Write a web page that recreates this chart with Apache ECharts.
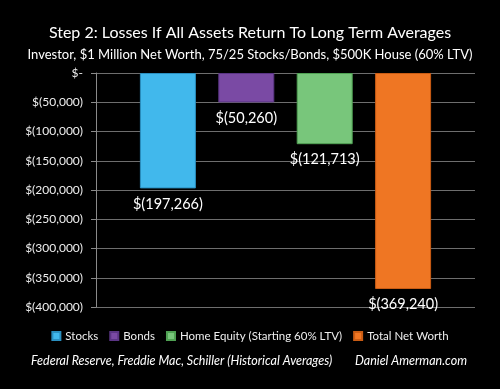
<!DOCTYPE html>
<html><head><meta charset="utf-8">
<script src="https://cdn.jsdelivr.net/npm/echarts@6/dist/echarts.min.js"></script>
<style>html,body{margin:0;padding:0;background:#000;}#c{width:500px;height:389px;}</style>
</head><body><div id="c"></div>
<script>
const seriesNames = ['Stocks', 'Bonds', 'Home Equity (Starting 60% LTV)', 'Total Net Worth'];
const seriesValues = [-197266, -50260, -121713, -369240];
const seriesColors = ['#41b8ec', '#7a4aa4', '#78c67b', '#ef7623'];
const borderColors = ['#2a8fc0', '#5b3585', '#4fa153', '#c95c14'];
const categories = [''];
const titleText = 'Step 2: Losses If All Assets Return To Long Term Averages';
const subtitleText = 'Investor, $1 Million Net Worth, 75/25 Stocks/Bonds, $500K House (60% LTV)';
const footLeft = 'Federal Reserve, Freddie Mac, Schiller (Historical Averages)';
const footRight = 'Daniel Amerman.com';

function fmt(v) {
  if (v === 0) return '$-';
  const a = Math.abs(Math.round(v)).toString().replace(/\B(?=(\d{3})+(?!\d))/g, ',');
  return v < 0 ? '$(' + a + ')' : '$' + a;
}
const FONT = 'Lato';
const chart = echarts.init(document.getElementById('c'), null, {renderer: 'canvas'});
chart.setOption({
  backgroundColor: '#000',
  animation: false,
  textStyle: {fontFamily: FONT},
  title: {
    text: titleText, subtext: subtitleText, left: 'center', top: 20, itemGap: 7,
    textStyle: {color: '#fff', fontSize: 16, fontWeight: 'normal', fontFamily: FONT},
    subtextStyle: {color: '#fff', fontSize: 13, fontFamily: FONT}
  },
  legend: {
    data: seriesNames, top: 325, left: 'center', icon: 'rect', itemWidth: 8, itemHeight: 8, itemGap: 11,
    textStyle: {color: '#eee', fontSize: 11.5, fontFamily: FONT}
  },
  grid: {left: 96, right: 25, top: 73, bottom: 82, containLabel: false},
  xAxis: {
    type: 'category', data: categories,
    axisLine: {show: false}, axisTick: {show: false}, axisLabel: {show: false}
  },
  yAxis: {
    type: 'value', min: -400000, max: 0, interval: 50000,
    axisLine: {show: true, lineStyle: {color: '#8a8a8a', width: 1}},
    axisTick: {show: true, length: 5, lineStyle: {color: '#8a8a8a'}},
    splitLine: {show: true, lineStyle: {color: '#6e6e6e', width: 1}},
    axisLabel: {color: '#eee', fontSize: 12, margin: 13, formatter: fmt, fontFamily: FONT}
  },
  series: seriesNames.map((n, i) => ({
    name: n, type: 'bar', data: [seriesValues[i]],
    barWidth: 56, barGap: '40%',
    itemStyle: {color: seriesColors[i], borderColor: borderColors[i], borderWidth: 1},
    label: {show: true, position: 'bottom', distance: 8, color: '#fff', fontSize: 14.5, fontFamily: FONT,
      formatter: p => fmt(p.value)}
  })),
  graphic: [
    {type: 'text', left: 31, top: 354, style: {text: footLeft, fill: '#fff', font: 'italic 12.5px ' + FONT}},
    {type: 'text', right: 33, top: 354, style: {text: footRight, fill: '#fff', font: 'italic 12.5px ' + FONT}}
  ]
});
</script></body></html>
